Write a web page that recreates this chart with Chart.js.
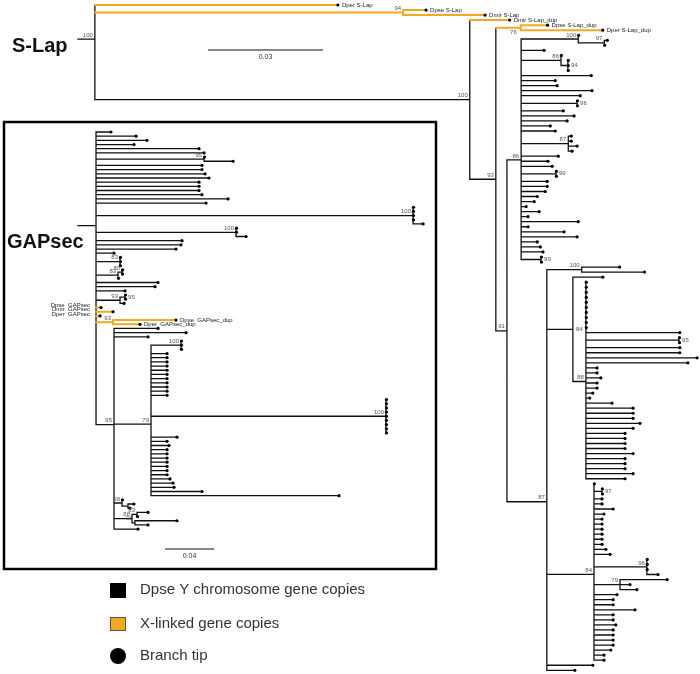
<!DOCTYPE html>
<html>
<head>
<meta charset="utf-8">
<script src="https://cdn.jsdelivr.net/npm/chart.js"></script>
<style>
  html, body { margin: 0; padding: 0; background: #fff; }
</style>
</head>
<body>
<canvas id="tree" width="700" height="674"></canvas>
<script>
// Trees in Newick, branch lengths in substitutions/site.
// Named tips = X-linked copies, unnamed tips = Dpse Y copies.
// Support suffix: r = label right of node, b = below, "<" on a name = label left of the comb.
const slapTree = `
('Dper S-Lap':0.0634,
 ('Dpse S-Lap':0.0060,'Dmir S-Lap':0.0214)94:0.0804,
 ('Dmir S-Lap_dup':0.0104,
  (('Dpse S-Lap_dup':0.0070,'Dper S-Lap_dup':0.0214)76b:0.0065,
   (
    ((:0.0001,(:0.0008,:0.0001)97:0.0068)100:0.0149,
     :0.0060,
     (:0.0001,(:0.0001,:0.0001,:0.0001)94r:0.0018)86:0.0104,
     :0.0183,:0.0089,:0.0094,:0.0185,:0.0154,
     (:0.0001,:0.0001)96r:0.0146,
     :0.0110,:0.0138,:0.0120,:0.0076,:0.0089,
     (:0.0008,:0.0008,:0.0023,:0.0010)87:0.0123,
     :0.0097,:0.0070,:0.0081,
     (:0.0001,:0.0001)99r:0.0091,
     :0.0068,:0.0068,:0.0063,:0.0042,:0.0034,:0.0013,:0.0047,:0.0018,
     :0.0149,:0.0018,:0.0112,:0.0146,:0.0042,:0.0050,:0.0057,
     (:0.0001,:0.0001)99r:0.0052
    )86:0.0037,
    ((:0.0099,:0.0164)100:0.0091,
     (:0.0078,
      (:0.0001,:0.0001,:0.0001,:0.0001,:0.0001,:0.0001,:0.0001,:0.0001,:0.0001,:0.0001,
       :0.0245,(:0.0001,:0.0001)95r:0.0243,:0.0245,:0.0245,:0.0290,:0.0266,
       :0.0029,:0.0029,:0.0039,:0.0029,:0.0029,:0.0018,:0.0010,
       :0.0068,
       :0.0123,:0.0123,:0.0123,:0.0141,:0.0123,
       :0.0102,:0.0102,:0.0102,:0.0102,:0.0123,:0.0102,:0.0102,:0.0102,:0.0123,:0.0102
      )88:0.0034
     )84r:0.0068,
     (:0.0001,(:0.0001,:0.0001)97r:0.0021,
      :0.0021,:0.0021,:0.0050,:0.0026,
      :0.0021,:0.0021,:0.0021,:0.0021,:0.0021,:0.0021,
      :0.0031,:0.0042,
      (:0.0001,:0.0001,:0.0001,:0.0029)96:0.0138,
      (:0.0123,:0.0026,:0.0044)79:0.0068,
      :0.0060,:0.0050,:0.0050,:0.0107,:0.0050,:0.0050,:0.0057,
      :0.0050,:0.0050,:0.0050,:0.0050,:0.0044,:0.0026,:0.0026
     )84:0.0123,
     :0.0120,:0.0073
    )87:0.0104
   )91:0.0029
  )93:0.0068
 )100:0.0978
)100:0.0044;`;

const gapsecTree = `
(:0.0122,:0.0327,:0.0416,:0.0310,:0.0841,:0.0882,
 (:0.0004,:0.0237)95:0.0882,
 :0.0865,:0.0865,:0.0890,:0.0922,
 :0.0841,:0.0841,:0.0841,:0.0865,:0.1078,:0.0898,
 (:0.0004,:0.0004,:0.0004,:0.0004,:0.0082)100:0.2588,
 (:0.0004,:0.0004,:0.0082)100:0.1143,
 :0.0702,:0.0694,:0.0653,:0.0147,
 (:0.0004,:0.0004,:0.0004)83:0.0196,
 ((:0.0004,:0.0004)80:0.0033,:0.0004)83:0.0180,
 :0.0506,:0.0482,:0.0237,
 ((:0.0004,:0.0004)95r:0.0041,:0.0033)93:0.0196,
 '<Dpse  GAPsec':0.0041,'<Dmir  GAPsec':0.0139,'<Dper  GAPsec':0.0033,
 ('Dpse  GAPsec_dup':0.0514,'Dper  GAPsec_dup':0.0220)93:0.0139,
 (:0.0359,:0.0588,:0.0278,
  ((:0.0004,:0.0004,:0.0004)100:0.0245,
   :0.0131,:0.0131,:0.0131,:0.0131,:0.0131,:0.0131,:0.0131,:0.0131,:0.0131,:0.0131,:0.0131,
   (:0.0004,:0.0004,:0.0004,:0.0004,:0.0004,:0.0004,:0.0004,:0.0004,:0.0004)100:0.1918,
   :0.0212,:0.0131,:0.0147,:0.0131,:0.0131,:0.0131,:0.0131,:0.0131,:0.0131,:0.0131,
   :0.0155,:0.0180,:0.0188,:0.0416,:0.1535
  )79:0.0302,
  (:0.0004,(:0.0049,:0.0016):0.0049)98:0.0065,
  ((:0.0090,:0.0004)83:0.0041,(:0.0343,:0.0106)90:0.0024)88:0.0147,
  :0.0196
 )95:0.0147
):0.0147;`;

const treeTitles = ["S-Lap", "GAPsec"];
const scaleBarLengths = [0.03, 0.04];
const scaleBarLabels = ["0.03", "0.04"];
const legendLabels = ["Dpse Y chromosome gene copies", "X-linked gene copies", "Branch tip"];

// layout
const W = 700, H = 674;
const BLACK = "#111";
const ORANGE = "#f2a922";
const FONT = "'Liberation Sans', Arial, Helvetica, sans-serif";

const panels = [
  { id: "s", tree: slapTree, rootLeft: 78, pxPerUnit: 115 / 0.03, rowTop: 5, rowStep: 5.04,
    bar: [208, 50], title: [12, 46] },
  { id: "g", tree: gapsecTree, rootLeft: 78, pxPerUnit: 49 / 0.04, rowTop: 132, rowStep: 4.18,
    bar: [165, 549], title: [7, 242] }
];

function parseNewick(s) {
  let i = 0;
  const ws = () => { while (i < s.length && /\s/.test(s[i])) i++; };
  function node(parent) {
    ws();
    const n = { kids: [], parent: parent, name: "", len: 0 };
    if (s[i] === "(") {
      i++;
      n.kids.push(node(n)); ws();
      while (s[i] === ",") { i++; n.kids.push(node(n)); ws(); }
      i++; // ')'
    }
    ws();
    if (s[i] === "'") {
      const j = s.indexOf("'", i + 1);
      n.name = s.slice(i + 1, j);
      i = j + 1;
    } else {
      const m = /^[^(),:;\s]*/.exec(s.slice(i))[0];
      n.name = m; i += m.length;
    }
    ws();
    if (s[i] === ":") {
      i++;
      const m = /^[-0-9.eE]+/.exec(s.slice(i))[0];
      n.len = parseFloat(m); i += m.length;
    }
    return n;
  }
  return node(null);
}

// x = distance from root, y = tip row (internal node = mean of its children)
function layoutTree(root) {
  const nodes = [];
  let row = 0;
  (function walk(n, x0) {
    n.x0 = x0;
    n.x = x0 + n.len;
    n.kids.forEach(k => walk(k, n.x));
    if (n.kids.length) {
      n.y = n.kids.reduce((a, k) => a + k.y, 0) / n.kids.length;
      n.orange = n.kids.every(k => k.orange);
    } else {
      n.y = row++;
      n.orange = n.name !== "";
    }
    nodes.push(n);
  })(root, 0);
  return nodes;
}

const datasets = [];
const scales = {};

panels.forEach(p => {
  p.nodes = layoutTree(parseNewick(p.tree));
  const lines = { black: [], orange: [] };
  const tips = [];
  p.nodes.forEach(n => {
    const seg = lines[n.orange ? "orange" : "black"];
    seg.push({ x: n.x0, y: n.y }, { x: n.x, y: n.y }, { x: n.x, y: null });
    if (n.kids.length) {
      const ys = n.kids.map(k => k.y);
      seg.push({ x: n.x, y: Math.min(...ys) }, { x: n.x, y: Math.max(...ys) }, { x: n.x, y: null });
    } else {
      tips.push({ x: n.x, y: n.y });
    }
  });
  const axes = { xAxisID: "x" + p.id, yAxisID: "y" + p.id, clip: false };
  datasets.push({ ...axes, data: lines.black, showLine: true, pointRadius: 0, pointHoverRadius: 0,
    borderColor: BLACK, borderWidth: 1.3, borderCapStyle: "square", spanGaps: false, order: 2 });
  datasets.push({ ...axes, data: lines.orange, showLine: true, pointRadius: 0, pointHoverRadius: 0,
    borderColor: ORANGE, borderWidth: 2, borderCapStyle: "square", spanGaps: false, order: 1 });
  datasets.push({ ...axes, data: tips, showLine: false, pointRadius: 1.6, pointHoverRadius: 1.6,
    pointBorderWidth: 0, pointBackgroundColor: "#000", order: 0 });

  const xmin = -p.rootLeft / p.pxPerUnit;
  scales["x" + p.id] = { type: "linear", axis: "x", display: false, min: xmin, max: xmin + W / p.pxPerUnit };
  const ymin = -p.rowTop / p.rowStep;
  scales["y" + p.id] = { type: "linear", axis: "y", display: false, reverse: true,
    min: ymin, max: ymin + H / p.rowStep };
});

// support values, tip names, titles, scale bars, box and legend
const annotations = {
  id: "annotations",
  afterDatasetsDraw(chart) {
    const ctx = chart.ctx;
    ctx.save();
    panels.forEach((p, k) => {
      const sx = chart.scales["x" + p.id], sy = chart.scales["y" + p.id];
      ctx.font = "6px " + FONT;
      p.nodes.forEach(n => {
        if (!n.name) return;
        const px = sx.getPixelForValue(n.x), py = sy.getPixelForValue(n.y);
        if (n.kids.length) {
          const flag = n.name.replace(/[0-9]/g, ""), txt = n.name.replace(/\D/g, "");
          ctx.fillStyle = "#555";
          if (flag === "r") {
            ctx.textAlign = "left"; ctx.textBaseline = "middle";
            ctx.fillText(txt, px + 3, py);
          } else if (flag === "b") {
            ctx.textAlign = "right"; ctx.textBaseline = "top";
            ctx.fillText(txt, px - 4, py + 2);
          } else {
            ctx.textAlign = "right"; ctx.textBaseline = "bottom";
            ctx.fillText(txt, px - 2, py - 1);
          }
        } else {
          ctx.fillStyle = "#222";
          ctx.textBaseline = "middle";
          if (n.name[0] === "<") {
            ctx.textAlign = "right";
            ctx.fillText(n.name.slice(1), sx.getPixelForValue(n.x0) - 6, py - 2);
          } else {
            ctx.textAlign = "left";
            ctx.fillText(n.name, px + 4, py);
          }
        }
      });

      // scale bar
      const len = sx.getPixelForValue(scaleBarLengths[k]) - sx.getPixelForValue(0);
      const [bx, by] = p.bar;
      ctx.strokeStyle = BLACK; ctx.lineWidth = 1.2;
      ctx.beginPath(); ctx.moveTo(bx, by); ctx.lineTo(bx + len, by); ctx.stroke();
      ctx.fillStyle = "#333"; ctx.font = "7px " + FONT;
      ctx.textAlign = "center"; ctx.textBaseline = "top";
      ctx.fillText(scaleBarLabels[k], bx + len / 2, by + 4);

      // title
      ctx.fillStyle = "#111"; ctx.font = "bold 20px " + FONT;
      ctx.textAlign = "left"; ctx.textBaseline = "middle";
      ctx.fillText(treeTitles[k], p.title[0], p.title[1]);
    });

    // GAPsec box
    ctx.strokeStyle = "#000"; ctx.lineWidth = 2.5;
    ctx.strokeRect(4, 122, 432, 447);

    // legend
    ctx.fillStyle = "#000";
    ctx.fillRect(110, 583, 16, 15);
    ctx.fillStyle = ORANGE;
    ctx.fillRect(110, 617, 16, 14);
    ctx.strokeStyle = "#555"; ctx.lineWidth = 1;
    ctx.strokeRect(110.5, 617.5, 15, 13);
    ctx.fillStyle = "#000";
    ctx.beginPath(); ctx.arc(118, 656, 8, 0, Math.PI * 2); ctx.fill();
    ctx.fillStyle = "#333"; ctx.font = "15px " + FONT;
    ctx.textAlign = "left"; ctx.textBaseline = "middle";
    [590, 624, 656].forEach((y, i) => ctx.fillText(legendLabels[i], 140, y));
    ctx.restore();
  }
};

new Chart(document.getElementById("tree"), {
  type: "scatter",
  data: { datasets: datasets },
  options: {
    responsive: false,
    animation: false,
    events: [],
    layout: { padding: 0, autoPadding: false },
    scales: scales,
    plugins: { legend: { display: false }, tooltip: { enabled: false } }
  },
  plugins: [annotations]
});
</script>
</body>
</html>
